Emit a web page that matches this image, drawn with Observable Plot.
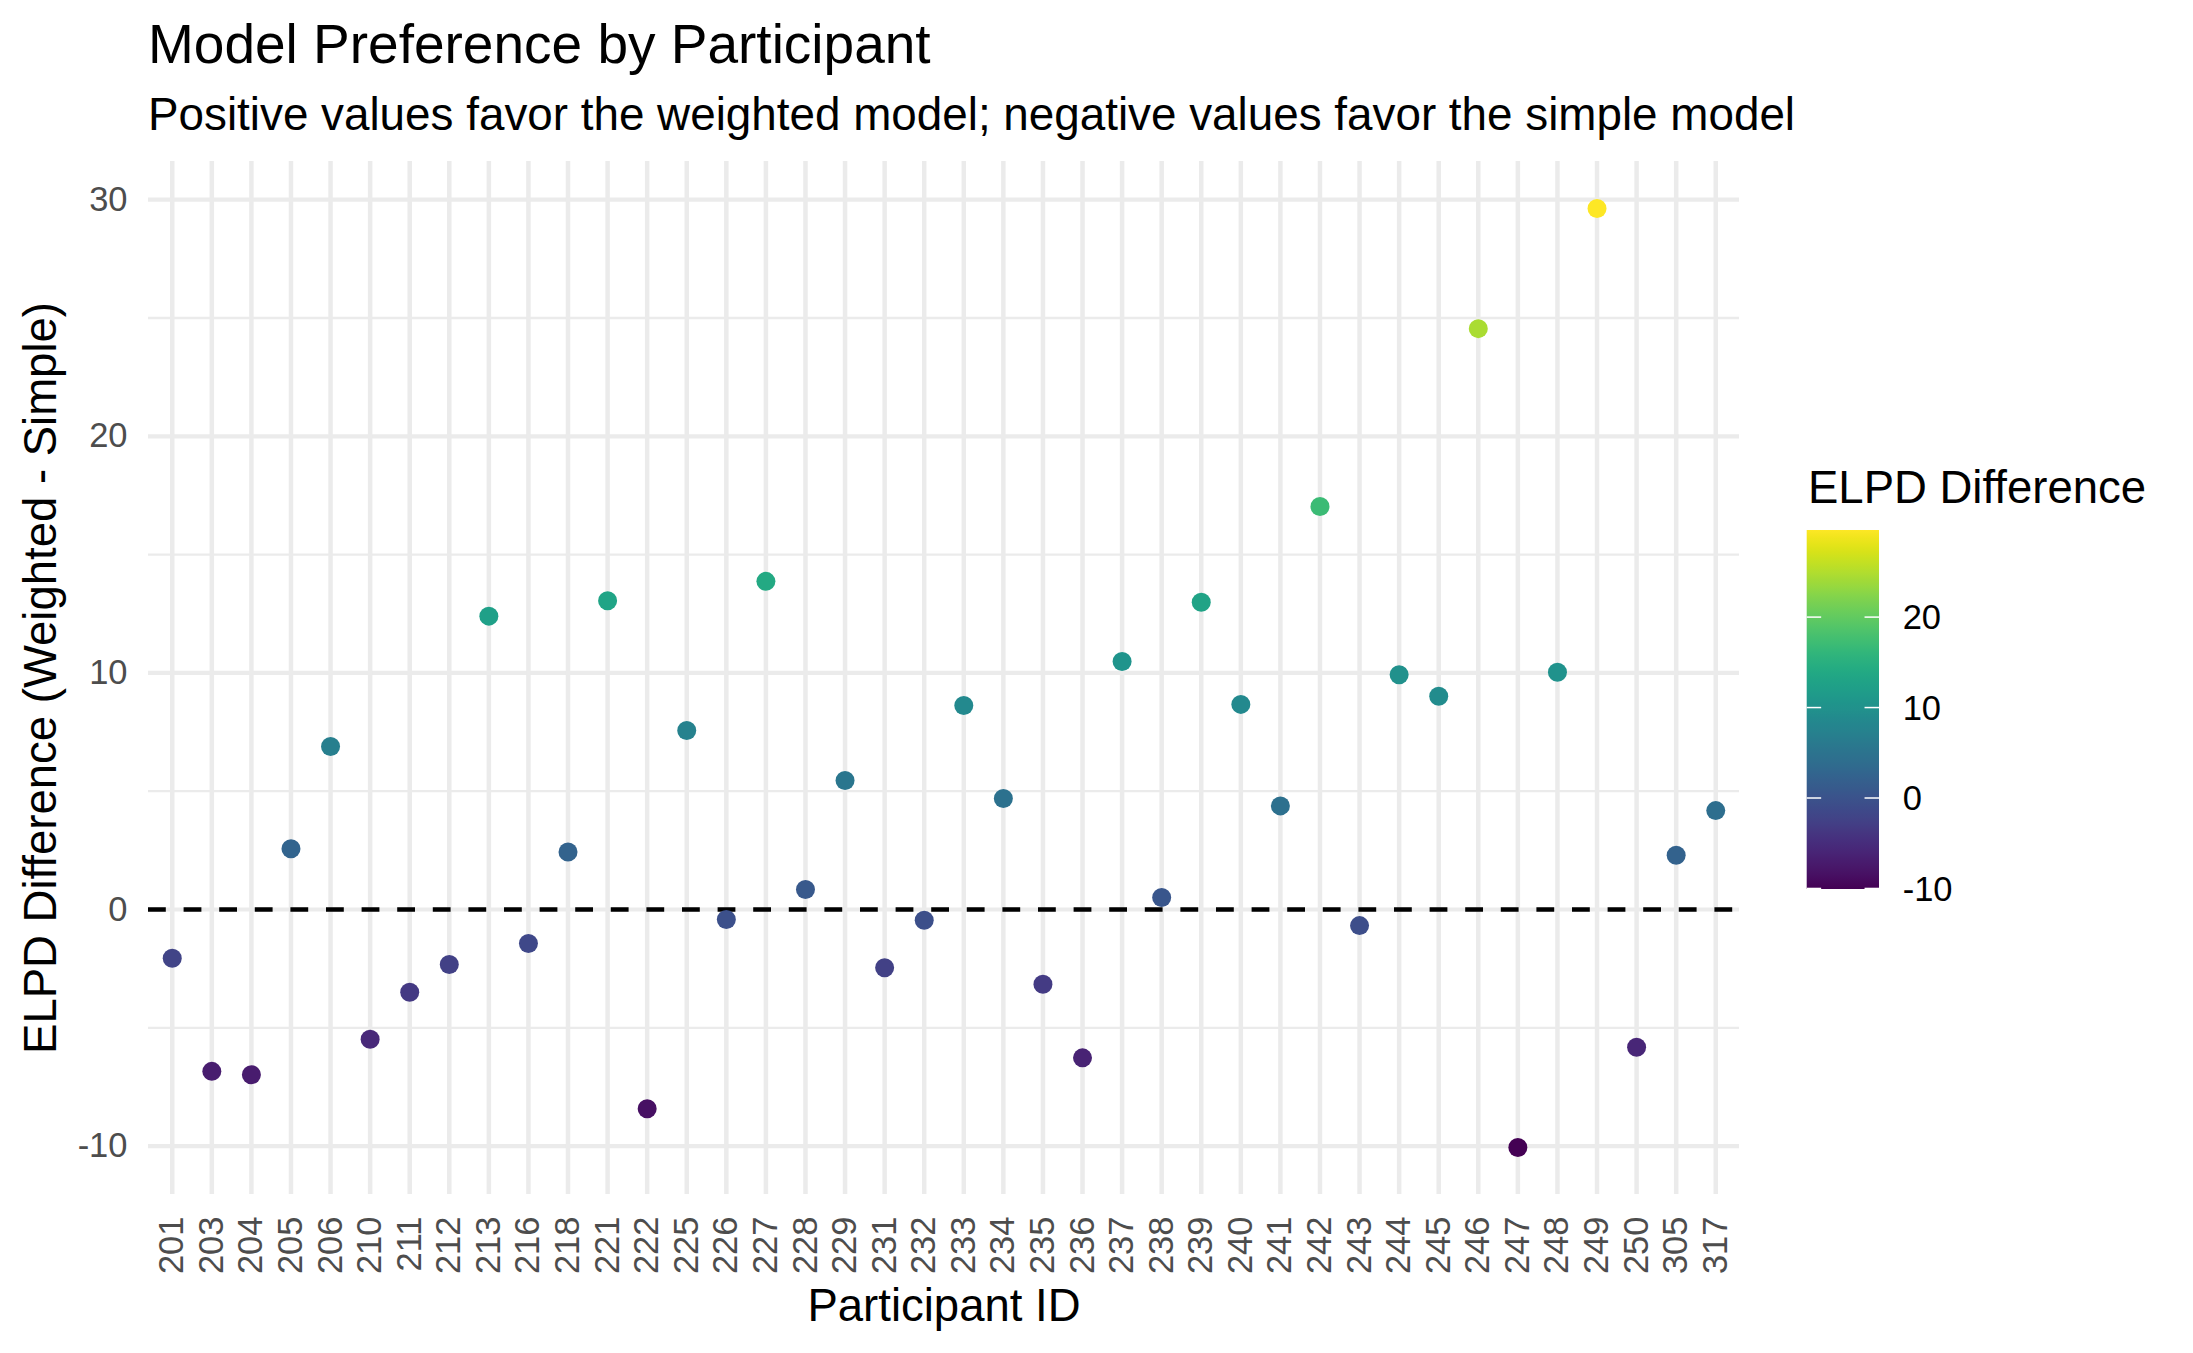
<!DOCTYPE html>
<html>
<head>
<meta charset="utf-8">
<script src="https://cdn.jsdelivr.net/npm/d3@7"></script>
<script src="https://cdn.jsdelivr.net/npm/@observablehq/plot@0.6"></script>
<style>
  html, body { margin: 0; padding: 0; background: #ffffff; }
  body { width: 2193px; height: 1353px; overflow: hidden; font-family: "Liberation Sans", Arial, sans-serif; }
  #header { position: relative; width: 2193px; height: 150px; }
  #title { position: absolute; left: 148px; top: 16.7px; font-size: 55px; line-height: 55px; color: #000; white-space: nowrap; }
  #subtitle { position: absolute; left: 148px; top: 91.5px; font-size: 45.8px; line-height: 45.8px; color: #000; white-space: nowrap; }
  #chart svg { display: block; }
</style>
</head>
<body>
<div id="header">
  <div id="title">Model Preference by Participant</div>
  <div id="subtitle">Positive values favor the weighted model; negative values favor the simple model</div>
</div>
<div id="chart"></div>
<script>
// ---- data ----
const participantIds = ["201","203","204","205","206","210","211","212","213","216","218","221","222","225","226","227","228","229","231","232","233","234","235","236","237","238","239","240","241","242","243","244","245","246","247","248","249","250","305","317"];
const elpdDiff = [-2.06, -6.84, -6.98, 2.57, 6.89, -5.48, -3.50, -2.32, 12.40, -1.44, 2.43, 13.05, -8.42, 7.57, -0.42, 13.87, 0.85, 5.45, -2.46, -0.45, 8.62, 4.69, -3.16, -6.27, 10.48, 0.51, 12.99, 8.67, 4.38, 17.03, -0.68, 9.92, 9.01, 24.55, -10.06, 10.03, 29.63, -5.82, 2.29, 4.18];
const yMajorTicks = [-10, 0, 10, 20, 30];
const yMinorTicks = [-5, 5, 15, 25];
const legendTicks = [-10, 0, 10, 20];
const xLabel = "Participant ID";
const yLabel = "ELPD Difference (Weighted - Simple)";
const legendTitle = "ELPD Difference";

const data = participantIds.map((id, i) => ({id, value: elpdDiff[i]}));
const [lo, hi] = d3.extent(elpdDiff);
const pad = (hi - lo) * 0.05;

const FONT = "'Liberation Sans', Arial, sans-serif";
const GRID = "#EBEBEB";

const chart = Plot.plot({
  width: 2193,
  height: 1203,
  marginLeft: 148,
  marginRight: 454,
  marginTop: 11,
  marginBottom: 159,
  style: {fontFamily: FONT, background: "#ffffff", overflow: "visible"},
  x: {type: "point", domain: participantIds, padding: 0.6, round: false, label: null},
  y: {domain: [lo - pad, hi + pad], label: null},
  color: {type: "linear", scheme: "viridis", domain: [lo, hi]},
  marks: [
    Plot.gridY(yMinorTicks, {stroke: GRID, strokeOpacity: 1, strokeWidth: 2.3}),
    Plot.gridY(yMajorTicks, {stroke: GRID, strokeOpacity: 1, strokeWidth: 4.2}),
    Plot.gridX({stroke: GRID, strokeOpacity: 1, strokeWidth: 4.5}),
    Plot.axisY(yMajorTicks, {tickSize: 0, tickPadding: 21, fontSize: 34.5, color: "#4D4D4D", label: null, tickFormat: d => String(d)}),
    Plot.axisX({tickRotate: -90, tickSize: 0, tickPadding: 22, fontSize: 34.5, color: "#4D4D4D", label: null}),
    Plot.text([xLabel], {frameAnchor: "bottom", dy: 126, lineAnchor: "bottom", textAnchor: "middle", fontSize: 45.5, fill: "#000"}),
    Plot.text([yLabel], {frameAnchor: "left", dx: -125, rotate: -90, lineAnchor: "top", textAnchor: "middle", fontSize: 45.5, fill: "#000"}),
    Plot.ruleY([0], {stroke: "#000", strokeWidth: 4.45, strokeDasharray: "17.8,17.8"}),
    Plot.dot(data, {x: "id", y: "value", fill: "value", r: 9.5})
  ]
});
document.getElementById("chart").appendChild(chart);

// ---- vertical colour-bar legend (ggplot style) ----
const svg = d3.select(chart);
const barX = 1806.7, barW = 72.3, barTop = 380, barBottom = 739;
const ly = d3.scaleLinear().domain([lo, hi]).range([barBottom, barTop]);
const defs = svg.append("defs");
const grad = defs.append("linearGradient").attr("id", "viridisBar")
  .attr("x1", 0).attr("y1", 1).attr("x2", 0).attr("y2", 0);
d3.range(0, 1.0001, 0.02).forEach(t => {
  grad.append("stop").attr("offset", t).attr("stop-color", d3.interpolateViridis(t));
});
const lg = svg.append("g").attr("font-family", FONT).attr("text-anchor", "start");
lg.append("text").attr("x", 1808).attr("y", 353).attr("font-size", 45.5).attr("fill", "#000")
  .attr("text-anchor", "start").text(legendTitle);
lg.append("rect").attr("x", barX).attr("y", barTop).attr("width", barW).attr("height", barBottom - barTop)
  .attr("fill", "url(#viridisBar)");
const tickLen = barW / 5;
legendTicks.forEach(t => {
  const yy = ly(t);
  lg.append("line").attr("x1", barX).attr("x2", barX + tickLen).attr("y1", yy).attr("y2", yy)
    .attr("stroke", "#fff").attr("stroke-width", 1.5);
  lg.append("line").attr("x1", barX + barW - tickLen).attr("x2", barX + barW).attr("y1", yy).attr("y2", yy)
    .attr("stroke", "#fff").attr("stroke-width", 1.5);
  lg.append("text").attr("x", 1902.7).attr("y", yy).attr("dy", "0.35em").attr("font-size", 34.5)
    .attr("fill", "#000").attr("text-anchor", "start").text(String(t));
});
</script>
</body>
</html>
